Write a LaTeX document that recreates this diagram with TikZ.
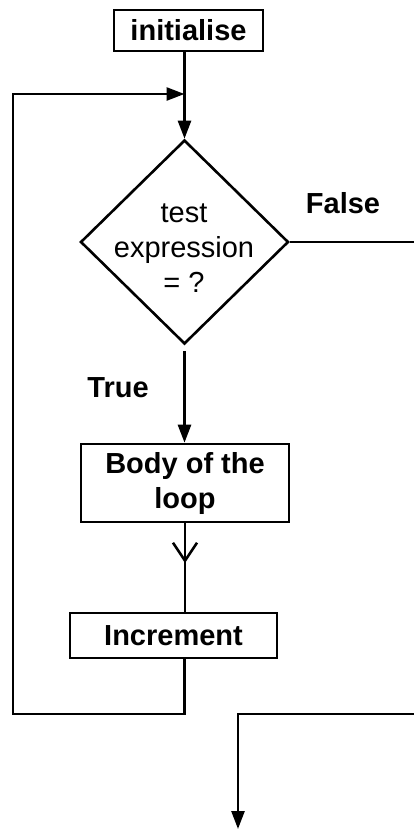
\documentclass[tikz,border=0pt]{standalone}
\usepackage{fontspec}
\setmainfont{Liberation Sans}
\usetikzlibrary{shapes.geometric,arrows.meta,decorations.markings}
\begin{document}
\begin{tikzpicture}[x=1pt,y=1pt,
  line width=2.6pt,
  txt/.style={font=\fontsize{29}{35}\selectfont, inner sep=0pt, align=center},
  box/.style={draw, rectangle, inner sep=0pt, font=\fontsize{29}{35}\selectfont\bfseries, align=center},
  lbl/.style={font=\fontsize{29}{35}\selectfont\bfseries, inner sep=0pt},
  tip/.style={-{Triangle[length=18pt,width=13pt]}},
  midv/.style={postaction={decorate}, decoration={markings, mark=at position 0.45 with {\arrow{Straight Barb[length=18pt,width=24pt]}}}}
]
\useasboundingbox (0,0) rectangle (414,-831);
\node[box, minimum width=149pt, minimum height=41pt] (init) at (188.5,-30.5) {initialise};
\node[draw, diamond, minimum width=208pt, minimum height=204pt, inner sep=0pt] (dia) at (184.5,-242) {};
\node[txt] (dtext) at (184,-248) {test\\expression\\= ?};
\node[box, minimum width=208pt, minimum height=78pt] (body) at (185,-483) {Body of the\\loop};
\node[box, minimum width=207pt, minimum height=45pt] (inc) at (173.5,-635.5) {Increment};
\node[lbl, anchor=base] (false) at (343,-213) {False};
\node[lbl, anchor=base] (true) at (118,-397) {True};
\coordinate (lb) at (13,-714);
\coordinate (lt) at (13,-94);
\coordinate (jn) at (dia.north |- lt);
\coordinate (fr) at (414,-242);
\coordinate (er) at (414,-714);
\coordinate (ex) at (238,-714);
\coordinate (eb) at (238,-829);
\draw[tip] (dia.north |- init.south) -- (dia.north);
\draw[tip] (dia.south |- inc.south) -- (dia.south |- lb) -- (lb) -- (lt) -- (jn);
\draw[tip, shorten <=6pt] (dia.south) -- (dia.south |- body.north);
\draw[midv] (body.south) -- (body.south |- inc.north);
\draw (dia.east) -- (fr);
\draw[tip] (er) -- (ex) -- (eb);
\end{tikzpicture}
\end{document}
